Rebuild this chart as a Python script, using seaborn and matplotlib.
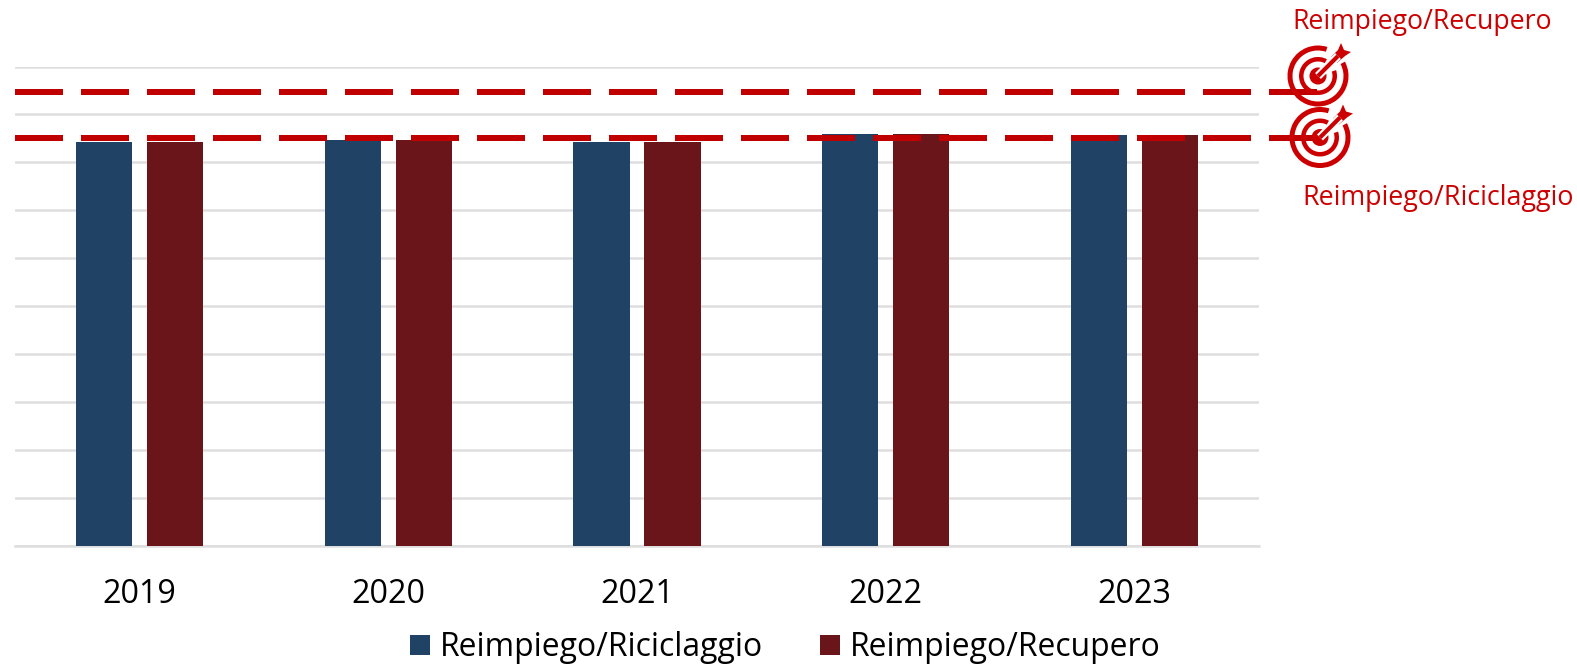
import pandas as pd
import matplotlib
matplotlib.use("Agg")
import matplotlib.pyplot as plt
from matplotlib.patches import Wedge, Circle, Polygon
import seaborn as sns

anni = ["2019", "2020", "2021", "2022", "2023"]
riciclaggio = [84.2, 84.7, 84.2, 86.0, 85.8]
recupero = [84.2, 84.7, 84.2, 86.0, 85.8]
target_recupero = 94.7
target_riciclaggio = 85.1
tick_y = [0, 10, 20, 30, 40, 50, 60, 70, 80, 90, 100]

nome_ric = "Reimpiego/Riciclaggio"
nome_rec = "Reimpiego/Recupero"

W, H = 1577, 665
ROSSO = "#C00000"
ICONA = "#CC0000"
GRIGIO = "#DEDEDE"

sns.set_theme(style="white")
plt.rcParams["font.family"] = ["Open Sans", "DejaVu Sans"]

df = pd.DataFrame({
    "anno": anni * 2,
    "valore": riciclaggio + recupero,
    "serie": [nome_ric] * 5 + [nome_rec] * 5,
})

fig = plt.figure(figsize=(W / 100, H / 100), dpi=100, facecolor="white")
ax = fig.add_axes([15 / W, 1 - 546 / H, 1244 / W, 479.5 / H])

# barre
sns.barplot(data=df, x="anno", y="valore", hue="serie", ax=ax,
            palette=["#204265", "#6A1519"], width=0.571, gap=0.211,
            saturation=1, linewidth=0, zorder=3)
ax.set_xlim(-0.5, 4.5)
ax.set_ylim(0, 100)
ax.set_yticks(tick_y)
ax.set_yticklabels([])
ax.set_xlabel("")
ax.set_ylabel("")
ax.grid(axis="y", color=GRIGIO, linewidth=1.8, zorder=0)
ax.set_axisbelow(True)
ax.tick_params(axis="x", length=0, pad=23, labelsize=23.2, labelcolor="black")
ax.tick_params(axis="y", length=0)
for s in ["top", "left", "right"]:
    ax.spines[s].set_visible(False)
ax.spines["bottom"].set_color(GRIGIO)
ax.spines["bottom"].set_linewidth(1.8)

# linee obiettivo, escono dagli assi fino all'icona
for t in [target_recupero, target_riciclaggio]:
    ax.plot([-0.5, 4.733], [t, t], color=ROSSO, linewidth=4.32,
            linestyle=(0, (8, 3)), dash_capstyle="butt", clip_on=False, zorder=5)

# legenda
sns.move_legend(ax, "lower left", bbox_to_anchor=(410 / W, 0.001),
                bbox_transform=fig.transFigure, ncol=2, frameon=False, title=None,
                fontsize=22.95, handlelength=0.62, handleheight=0.62,
                handletextpad=0.31, columnspacing=1.8, borderpad=0, borderaxespad=0)
for t in ax.get_legend().get_texts():
    t.set_color("black")

# livello in pixel per le icone
ov = fig.add_axes([0, 0, 1, 1], facecolor="none", zorder=10)
ov.set_xlim(0, W)
ov.set_ylim(H, 0)
ov.axis("off")


def bersaglio(cx, cy, r_medio):
    # anelli aperti in alto a destra
    ov.add_patch(Wedge((cx, cy), 30.5, -28, 288, width=5, color=ICONA, lw=0))
    ov.add_patch(Wedge((cx, cy), r_medio, -18, 298, width=4.5, color=ICONA, lw=0))
    ov.add_patch(Circle((cx, cy), 8.5, color=ICONA, lw=0))
    # freccia
    ov.plot([cx, cx + 20], [cy, cy - 20], color="white", lw=6, solid_capstyle="butt")
    ov.plot([cx, cx + 20], [cy, cy - 20], color=ICONA, lw=3, solid_capstyle="butt")
    ov.add_patch(Polygon([(cx + 13, cy - 19), (cx + 20, cy - 26), (cx + 23, cy - 33),
                          (cx + 26, cy - 26), (cx + 33, cy - 24), (cx + 27, cy - 20),
                          (cx + 19, cy - 13)], closed=True, color=ICONA, lw=0))


bersaglio(1318, 76, 19)
bersaglio(1320, 137.5, 19)

ov.text(1421.7, 22, nome_rec, color=ICONA, fontsize=19.2, ha="center", va="center")
ov.text(1437.8, 198, nome_ric, color=ICONA, fontsize=19.4, ha="center", va="center")

fig.savefig("out.png", dpi=100, facecolor="white")
